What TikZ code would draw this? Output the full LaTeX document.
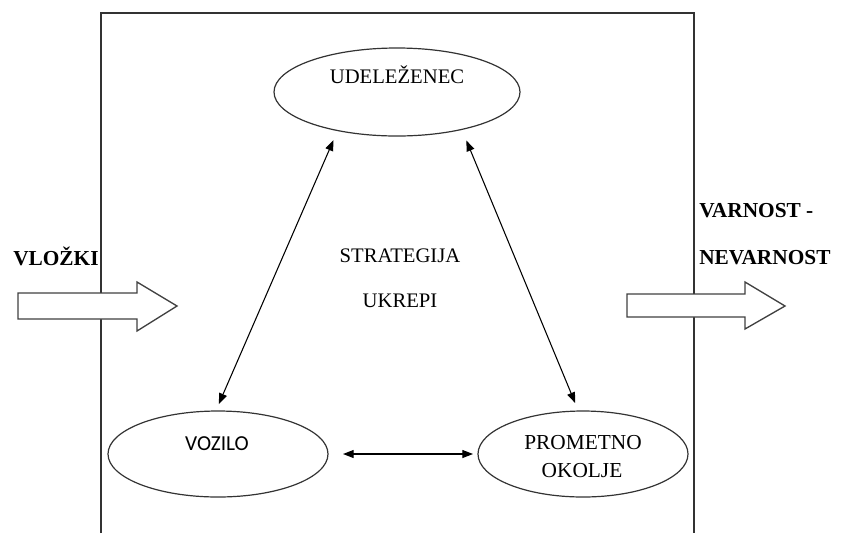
\documentclass[tikz,border=0pt]{standalone}
\usepackage{fontspec}
\setmainfont{Liberation Serif}
\newfontfamily\calibrifont{Carlito}
\usepackage{tikz}
\usetikzlibrary{shapes.geometric}
\usetikzlibrary{arrows.meta, positioning}

\begin{document}
\begin{tikzpicture}[x=0.75pt, y=-0.75pt,
  oval/.style={ellipse, draw=black!80, line width=0.9pt, inner sep=0pt, outer sep=0pt},
  txt/.style={anchor=base, inner sep=0pt, font=\fontsize{15.5}{18}\selectfont},
  boldtxt/.style={anchor=base west, inner sep=0pt, font=\fontsize{16}{19}\selectfont\bfseries},
  link/.style={>={Triangle[length=8pt,width=6pt]}, <->, line width=0.8pt},
  bigarrow/.style={draw=black!75, line width=1pt, fill=white}]

\useasboundingbox (0,0) rectangle (841,533);

% frame, open at the bottom
\draw[line width=1pt, black!80] (101,533) -- (101,13) -- (694,13) -- (694,533);

% input and output arrows
\draw[bigarrow] (18,293) -- (137,293) -- (137,282) -- (177,306) -- (137,331) -- (137,319) -- (18,319) -- cycle;
\draw[bigarrow] (627,294) -- (745,294) -- (745,282) -- (785,306) -- (745,329) -- (745,317) -- (627,317) -- cycle;

\node[boldtxt] (vlozki) at (13,265) {VLOŽKI};
\node[boldtxt] (varnost) at (699,217) {VARNOST -};
\node[boldtxt] (nevarnost) at (699,264) {NEVARNOST};

% the three ellipses
\node[oval, minimum width=184.5pt, minimum height=66pt] (udel) at (397,92) {};
\node[oval, minimum width=165pt, minimum height=64.5pt] (voz) at (218,454) {};
\node[oval, minimum width=157.5pt, minimum height=64.5pt] (prom) at (583,454) {};

\node[txt] (udeltext) at (397,83) {UDELEŽENEC};
\node[txt, font=\calibrifont\fontsize{16}{19}\selectfont] (voztext) at (217,450) {VOZILO};
\node[txt, font=\fontsize{16}{19}\selectfont] (promtext) at (583,449) {PROMETNO};
\node[txt, font=\fontsize{16}{19}\selectfont] (okoltext) at (582,477) {OKOLJE};

% middle text
\node[txt] (strat) at (400,262) {STRATEGIJA};
\node[txt] (ukrepi) at (400,307) {UKREPI};

% links between the ellipses
\draw[link, shorten <=7.8pt, shorten >=5.7pt] (udel.213) -- (voz.93);
\draw[link, shorten <=9pt, shorten >=6.5pt] (udel.330) -- (prom.96);
\draw[link, shorten <=11.25pt, shorten >=3.75pt] (voz.east) -- (prom.west);

\end{tikzpicture}
\end{document}
